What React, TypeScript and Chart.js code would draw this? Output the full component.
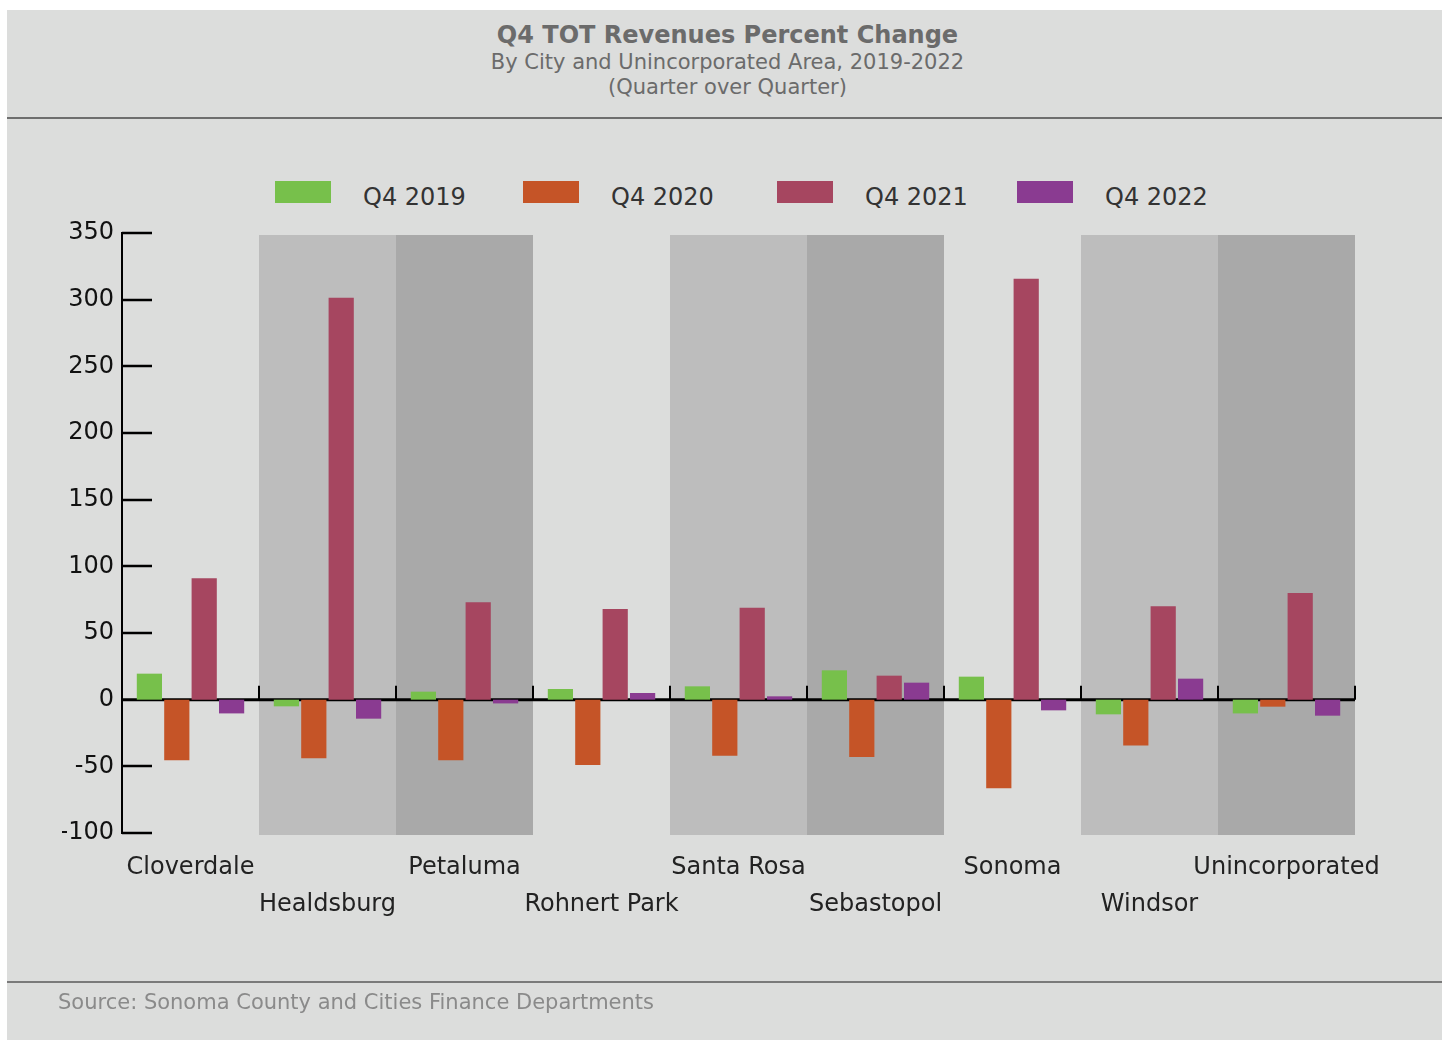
import React, { useEffect, useRef } from "react";
import { Chart, registerables } from "chart.js";

Chart.register(...registerables);

const categories = [
  "Cloverdale",
  "Healdsburg",
  "Petaluma",
  "Rohnert Park",
  "Santa Rosa",
  "Sebastopol",
  "Sonoma",
  "Windsor",
  "Unincorporated",
];

const seriesNames = ["Q4 2019", "Q4 2020", "Q4 2021", "Q4 2022"];
const q4_2019 = [19.5, -5, 6, 8, 10, 22, 17.25, -11, -10.3];
const q4_2020 = [-45.5, -44, -45.5, -49, -42, -43, -66.5, -34.3, -5.25];
const q4_2021 = [91, 301.5, 73, 68, 69, 18, 315.75, 70, 80];
const q4_2022 = [-10.3, -14.25, -2.8, 5, 2.5, 12.75, -8, 15.75, -12];
const seriesColors = ["#77c04b", "#c55427", "#a64660", "#8a3b91"];

const yTickMin = -100;
const yTickMax = 350;
const yTickStep = 50;

const FONT = "'DejaVu Sans', sans-serif";

const decorPlugin = {
  id: "decor",
  beforeDatasetsDraw(chart: any) {
    const { ctx, chartArea, scales } = chart;
    const { left, right, top, bottom } = chartArea;
    const x = scales.x;
    const y = scales.y;
    const n = chart.data.labels.length;
    const w = (right - left) / n;
    ctx.save();
    for (let i = 0; i < n; i++) {
      const m = i % 3;
      if (m === 0) continue;
      ctx.fillStyle = m === 1 ? "#bdbdbd" : "#a9a9a9";
      const cx = x.getPixelForValue(i);
      ctx.fillRect(cx - w / 2, top + 2, w, bottom - top);
    }
    const y0 = y.getPixelForValue(0);
    ctx.strokeStyle = "#000";
    ctx.lineWidth = 3;
    ctx.beginPath();
    ctx.moveTo(left, y0);
    ctx.lineTo(right, y0);
    ctx.stroke();
    ctx.lineWidth = 2;
    ctx.beginPath();
    for (let i = 0; i <= n; i++) {
      const px = Math.round(x.getPixelForValue(i) - w / 2);
      ctx.moveTo(px, y0);
      ctx.lineTo(px, y0 - 14);
    }
    ctx.stroke();
    ctx.lineWidth = 2.5;
    ctx.beginPath();
    y.ticks.forEach((t: any) => {
      if (t.value === 0) return;
      const py = Math.round(y.getPixelForValue(t.value));
      ctx.moveTo(left, py);
      ctx.lineTo(left + 30, py);
    });
    ctx.stroke();
    ctx.restore();
  },
};

export default function App() {
  const ref = useRef<HTMLCanvasElement | null>(null);

  useEffect(() => {
    if (!ref.current) return;
    const data = [q4_2019, q4_2020, q4_2021, q4_2022];
    const chart = new Chart(ref.current, {
      type: "bar",
      data: {
        labels: categories,
        datasets: seriesNames.map((name, i) => ({
          label: name,
          data: data[i],
          backgroundColor: seriesColors[i],
          borderWidth: 0,
          categoryPercentage: 0.8,
          barPercentage: 0.92,
        })),
      },
      options: {
        responsive: false,
        animation: false,
        devicePixelRatio: 1,
        layout: { padding: { left: 62, right: 87, top: 233, bottom: 87 } },
        plugins: {
          legend: { display: false },
          tooltip: { enabled: false },
          title: { display: false },
        },
        scales: {
          x: {
            grid: { display: false, drawTicks: false },
            border: { display: false },
            ticks: {
              autoSkip: false,
              maxRotation: 0,
              minRotation: 0,
              padding: 16,
              color: "#222",
              font: { family: FONT, size: 24, lineHeight: 1.56 },
              callback: (_v: any, i: number) =>
                i % 2 === 0 ? categories[i] : ["", categories[i]],
            },
            afterFit: (s: any) => {
              s.height = 120;
            },
          },
          y: {
            min: yTickMin,
            max: yTickMax,
            grid: { display: false, drawTicks: false },
            border: { display: true, color: "#000", width: 2 },
            ticks: {
              stepSize: yTickStep,
              padding: 8,
              color: "#111",
              font: { family: FONT, size: 24 },
            },
            afterFit: (s: any) => {
              s.width = 60;
            },
          },
        },
      },
      plugins: [decorPlugin],
    });
    return () => chart.destroy();
  }, []);

  const legendWidths = [248, 254, 240, 200];

  return (
    <div style={{ position: "absolute", left: 0, top: 0, width: 1442, height: 1040, fontFamily: FONT }}>
      <div
        style={{
          position: "absolute",
          left: 7,
          top: 10,
          width: 1435,
          height: 1030,
          background: "#dcdddc",
        }}
      />
      <div style={{ position: "absolute", left: 7, top: 117, width: 1435, height: 2, background: "#6e6e6e" }} />
      <div style={{ position: "absolute", left: 7, top: 981, width: 1435, height: 2, background: "#7a7a7a" }} />
      <div
        style={{
          position: "absolute",
          left: 10,
          width: 1435,
          top: 21,
          textAlign: "center",
          fontWeight: "bold",
          fontSize: 24,
          lineHeight: "28px",
          color: "#6b6b6b",
        }}
      >
        Q4 TOT Revenues Percent Change
      </div>
      <div
        style={{
          position: "absolute",
          left: 10,
          width: 1435,
          top: 50,
          textAlign: "center",
          fontSize: 21,
          lineHeight: "25px",
          color: "#6b6b6b",
        }}
      >
        By City and Unincorporated Area, 2019-2022
      </div>
      <div
        style={{
          position: "absolute",
          left: 10,
          width: 1435,
          top: 75,
          textAlign: "center",
          fontSize: 21,
          lineHeight: "25px",
          color: "#6b6b6b",
        }}
      >
        (Quarter over Quarter)
      </div>
      <div style={{ position: "absolute", left: 275, top: 181, display: "flex" }}>
        {seriesNames.map((name, i) => (
          <div key={name} style={{ display: "flex", alignItems: "flex-start", width: legendWidths[i] }}>
            <div style={{ width: 56, height: 22, background: seriesColors[i], marginRight: 32 }} />
            <div style={{ fontSize: 24, lineHeight: "30px", marginTop: 1, color: "#333" }}>{name}</div>
          </div>
        ))}
      </div>
      <canvas
        ref={ref}
        width={1442}
        height={1040}
        style={{ position: "absolute", left: 0, top: 0, width: 1442, height: 1040 }}
      />
      <div
        style={{
          position: "absolute",
          left: 58,
          top: 989,
          fontSize: 21,
          lineHeight: "26px",
          color: "#8a8a8a",
        }}
      >
        Source: Sonoma County and Cities Finance Departments
      </div>
    </div>
  );
}
